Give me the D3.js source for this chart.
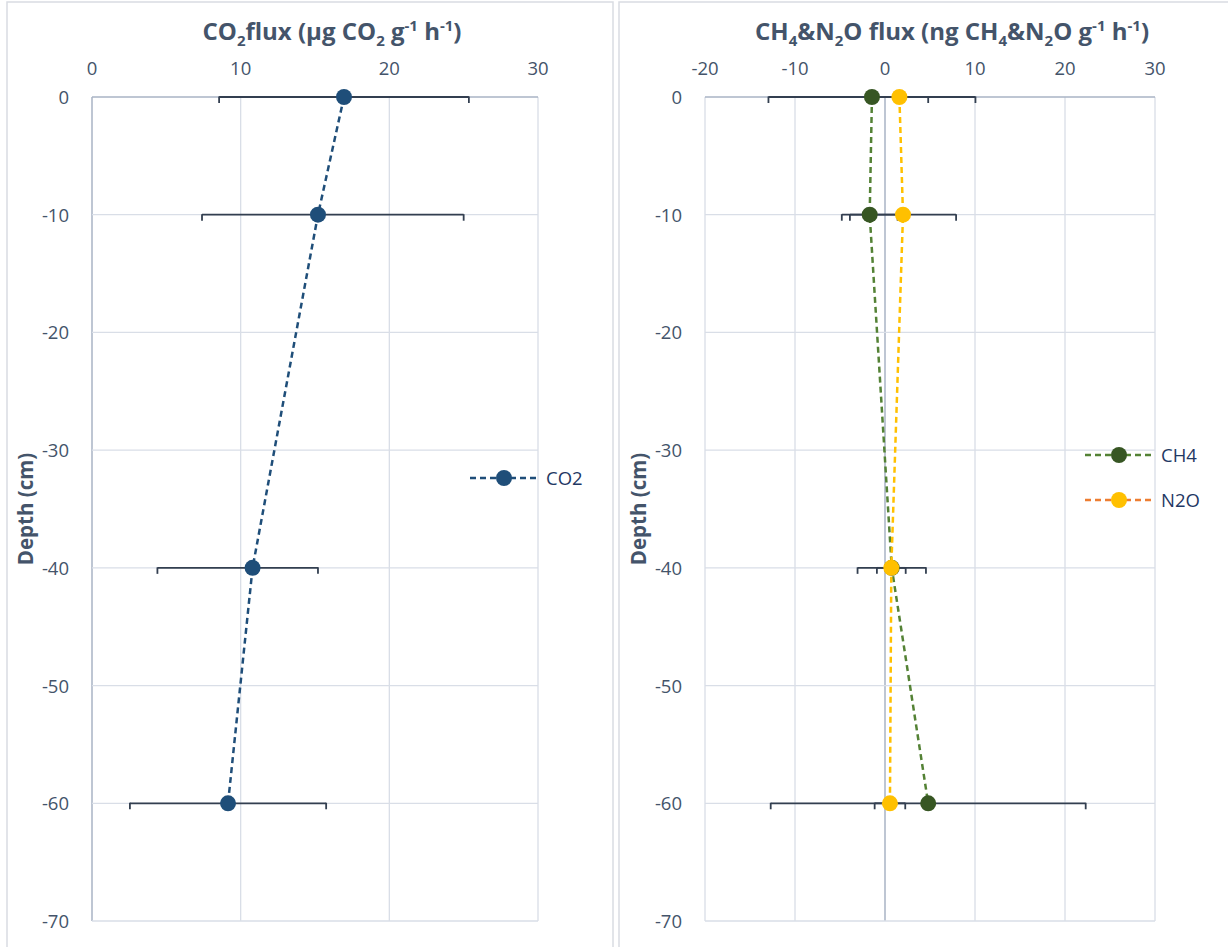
<!DOCTYPE html>
<html>
<head>
<meta charset="utf-8">
<script src="https://cdn.jsdelivr.net/npm/d3@7"></script>
<style>
  body { margin: 0; background: #fff; }
  text { font-family: "Open Sans", "Noto Sans", sans-serif; }
</style>
</head>
<body>
<div id="canvas"></div>
<script>
var depths = [0, -10, -40, -60]

var co2 = [16.95, 15.2, 10.8, 9.15]
var co2ErrMinus = [8.4, 7.8, 6.4, 6.6]
var co2ErrPlus = [8.4, 9.8, 4.4, 6.6]

var ch4 = [-1.45, -1.7, 0.75, 4.8]
var ch4ErrMinus = [11.5, 3.1, 3.8, 17.5]
var ch4ErrPlus = [11.5, 3.1, 3.8, 17.5]
var n2o = [1.6, 2.0, 0.7, 0.55]
var n2oErrMinus = [3.2, 5.9, 1.6, 1.7]
var n2oErrPlus = [3.2, 5.9, 1.6, 1.7]

var leftTicks = [0, 10, 20, 30]
var rightTicks = [-20, -10, 0, 10, 20, 30]
var depthTicks = [0, -10, -20, -30, -40, -50, -60, -70]

var width = 1228
var height = 947

var textColor = "#44546A"
var gridColor = "#D9DEE7"
var errColor = "#333F50"

var svg = d3.select("#canvas")
    .append("svg")
    .attr("width", width)
    .attr("height", height)

// panel frames
svg.append("rect").attr("x", 7).attr("y", 2).attr("width", 606).attr("height", 960)
    .attr("fill", "none").attr("stroke", "#D9DCE2").attr("stroke-width", 1.5)
svg.append("rect").attr("x", 619).attr("y", 2).attr("width", 620).attr("height", 960)
    .attr("fill", "none").attr("stroke", "#D9DCE2").attr("stroke-width", 1.5)

var yScale = d3.scaleLinear().domain([0, -70]).range([97, 921])

function panel(opts) {
    var g = svg.append("g")
    var x = d3.scaleLinear().domain(opts.domain).range(opts.range)

    // vertical gridlines
    g.selectAll(".vgrid").data(opts.ticks).enter().append("line")
        .attr("x1", d => x(d)).attr("x2", d => x(d))
        .attr("y1", yScale(0)).attr("y2", yScale(-70))
        .attr("stroke", d => d == 0 ? "#A9B3C4" : gridColor)
        .attr("stroke-width", d => d == 0 ? 1.5 : 1.3)
    // horizontal gridlines
    g.selectAll(".hgrid").data(depthTicks).enter().append("line")
        .attr("x1", opts.range[0]).attr("x2", opts.range[1])
        .attr("y1", d => yScale(d)).attr("y2", d => yScale(d))
        .attr("stroke", d => d == 0 ? "#A9B3C4" : gridColor)
        .attr("stroke-width", d => d == 0 ? 1.5 : 1.3)

    // top x axis labels
    g.selectAll(".xlab").data(opts.ticks).enter().append("text")
        .attr("x", d => x(d)).attr("y", 75)
        .attr("text-anchor", "middle")
        .attr("font-size", 18.5).attr("fill", textColor)
        .text(d => d)
    // y labels
    g.selectAll(".ylab").data(depthTicks).enter().append("text")
        .attr("x", opts.range[0] - 23).attr("y", d => yScale(d) + 7)
        .attr("text-anchor", "end")
        .attr("font-size", 18.5).attr("fill", textColor)
        .text(d => d)

    // y title
    g.append("text")
        .attr("transform", `translate(${opts.range[0] - 59},${yScale(-35)}) rotate(-90)`)
        .attr("text-anchor", "middle")
        .attr("font-size", 20.5).attr("font-weight", "bold").attr("fill", textColor)
        .text("Depth (cm)")

    // error bars
    opts.series.forEach(function (s) {
        var eb = g.append("g")
        depths.forEach(function (d, i) {
            var lo = x(s.values[i] - s.errMinus[i]), hi = x(s.values[i] + s.errPlus[i]), y = yScale(d)
            eb.append("line").attr("x1", lo).attr("x2", hi).attr("y1", y).attr("y2", y)
                .attr("stroke", errColor).attr("stroke-width", 1.8)
            ;[lo, hi].forEach(function (cx) {
                eb.append("line").attr("x1", cx).attr("x2", cx).attr("y1", y - 0.5).attr("y2", y + 6)
                    .attr("stroke", errColor).attr("stroke-width", 1.8)
            })
        })
    })

    // lines and markers
    opts.series.forEach(function (s) {
        var line = d3.line().x((d, i) => x(s.values[i])).y(d => yScale(d))
        g.append("path").datum(depths)
            .attr("d", line)
            .attr("fill", "none")
            .attr("stroke", s.line).attr("stroke-width", 2.5)
            .attr("stroke-dasharray", "6,4")
        g.selectAll(null).data(depths).enter().append("circle")
            .attr("cx", (d, i) => x(s.values[i])).attr("cy", d => yScale(d))
            .attr("r", 8).attr("fill", s.marker)
    })

    // legend
    opts.series.forEach(function (s, i) {
        var ly = opts.legendY + i * 45
        var lx = opts.legendX
        g.append("line").attr("x1", lx).attr("x2", lx + 68).attr("y1", ly).attr("y2", ly)
            .attr("stroke", s.legendLine).attr("stroke-width", 2.5).attr("stroke-dasharray", "6,4")
        g.append("circle").attr("cx", lx + 34).attr("cy", ly).attr("r", 8).attr("fill", s.marker)
        g.append("text").attr("x", lx + 76).attr("y", ly + 7)
            .attr("font-size", 18.5).attr("fill", "#1F3864")
            .text(s.name)
    })

    return g
}

panel({
    domain: [0, 30], range: [92, 538], ticks: leftTicks,
    legendX: 470, legendY: 478,
    series: [{ name: "CO2", values: co2, errMinus: co2ErrMinus, errPlus: co2ErrPlus, line: "#1F4E79", marker: "#1F4E79", legendLine: "#1F4E79" }]
})

panel({
    domain: [-20, 30], range: [705, 1155], ticks: rightTicks,
    legendX: 1085, legendY: 455,
    series: [
        { name: "CH4", values: ch4, errMinus: ch4ErrMinus, errPlus: ch4ErrPlus, line: "#548235", marker: "#375623", legendLine: "#548235" },
        { name: "N2O", values: n2o, errMinus: n2oErrMinus, errPlus: n2oErrPlus, line: "#FFC000", marker: "#FFC000", legendLine: "#ED7D31" }
    ]
})

// titles with sub/superscripts
function title(cx, parts) {
    var t = svg.append("text")
        .attr("x", cx).attr("y", 40)
        .attr("text-anchor", "middle")
        .attr("font-size", 24).attr("font-weight", "bold").attr("fill", textColor)
    parts.forEach(function (p) {
        var ts = t.append("tspan").text(p[0])
        if (p[1] == "sub") ts.attr("font-size", 15).attr("dy", 6)
        if (p[1] == "sup") ts.attr("font-size", 15).attr("dy", -9)
        if (p[1] == "back") ts.attr("dy", p[2])
    })
}

title(332, [["CO"], ["2", "sub"], ["flux (µg CO", "back", -6], ["2", "sub"], [" g", "back", -6], ["-1", "sup"], [" h", "back", 9], ["-1", "sup"], [")", "back", 9]])
title(952, [["CH"], ["4", "sub"], ["&N", "back", -6], ["2", "sub"], ["O flux (ng CH", "back", -6], ["4", "sub"], ["&N", "back", -6], ["2", "sub"], ["O g", "back", -6], ["-1", "sup"], [" h", "back", 9], ["-1", "sup"], [")", "back", 9]])
</script>
</body>
</html>
